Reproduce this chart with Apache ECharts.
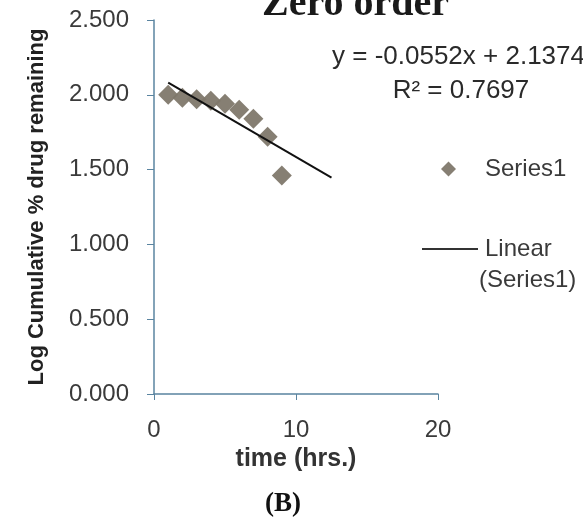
<!DOCTYPE html>
<html>
<head>
<meta charset="utf-8">
<script src="https://cdn.jsdelivr.net/npm/echarts@6/dist/echarts.min.js"></script>
<style>
  html, body { margin: 0; padding: 0; background: #fff; }
  #chart { width: 583px; height: 525px; }
</style>
</head>
<body>
<div id="chart"></div>
<script>
// time (hrs.) and log cumulative % drug remaining
const times = [1, 2, 3, 4, 5, 6, 7, 8, 9]
const logRemaining = [2.00, 1.98, 1.97, 1.96, 1.94, 1.90, 1.84, 1.72, 1.46]
// ends of the Excel linear trendline as drawn
const trendX = [1, 12.5]
const trendY = [2.082, 1.447]
const xTicks = [0, 10, 20]

const sans = 'Liberation Sans'
const axisColor = '#5a84a0'
const textColor = '#3a3a3a'

const chart = echarts.init(document.getElementById('chart'))

const option = {
  animation: false,
  title: {
    text: 'Zero order',
    left: 262,
    top: -15,
    padding: 0,
    textStyle: {
      fontFamily: 'Liberation Serif',
      fontWeight: 'bold',
      fontSize: 40,
      color: '#1a1a1a'
    }
  },
  grid: { left: 154, right: 145, top: 20, bottom: 131 },
  legend: [
    {
      data: ['Series1'],
      left: 436,
      top: 152,
      itemWidth: 15,
      itemHeight: 15,
      textStyle: { fontFamily: sans, fontSize: 24, color: textColor, padding: [0, 0, 0, 24] }
    },
    {
      data: [{ name: 'Linear (Series1)', icon: 'rect' }],
      left: 417,
      top: 232,
      itemWidth: 56,
      itemHeight: 2,
      itemStyle: { color: '#333' },
      formatter: function () { return 'Linear' },
      textStyle: { fontFamily: sans, fontSize: 24, color: textColor, padding: [0, 0, 0, 2] }
    }
  ],
  xAxis: {
    type: 'value',
    min: 0,
    max: 20,
    interval: 10,
    name: 'time (hrs.)',
    nameLocation: 'middle',
    nameGap: 51,
    nameTextStyle: { fontFamily: sans, fontWeight: 'bold', fontSize: 25, color: '#333' },
    axisLine: { show: true, lineStyle: { color: axisColor, width: 1.5 } },
    axisTick: { show: true, length: 6, lineStyle: { color: axisColor } },
    axisLabel: {
      margin: 24,
      fontFamily: sans,
      fontSize: 24,
      color: textColor,
      customValues: xTicks
    },
    splitLine: { show: false }
  },
  yAxis: {
    type: 'value',
    min: 0,
    max: 2.5,
    interval: 0.5,
    name: 'Log Cumulative % drug remaining',
    nameLocation: 'middle',
    nameGap: 106,
    nameTextStyle: { fontFamily: sans, fontWeight: 'bold', fontSize: 22, color: '#222' },
    axisLine: { show: true, lineStyle: { color: axisColor, width: 1.5 } },
    axisTick: { show: true, length: 7, lineStyle: { color: axisColor } },
    axisLabel: {
      margin: 25,
      fontFamily: sans,
      fontSize: 24,
      color: textColor,
      formatter: function (v) { return v.toFixed(3) }
    },
    splitLine: { show: false }
  },
  series: [
    {
      name: 'Series1',
      type: 'scatter',
      symbol: 'diamond',
      symbolSize: 20,
      itemStyle: { color: '#80786c', opacity: 0.95 },
      data: times.map((t, i) => [t, logRemaining[i]])
    },
    {
      name: 'Linear (Series1)',
      type: 'line',
      symbol: 'none',
      lineStyle: { color: '#111', width: 2 },
      itemStyle: { color: '#111' },
      data: trendX.map((t, i) => [t, trendY[i]])
    }
  ],
  graphic: [
    {
      type: 'text',
      left: 332,
      top: 44,
      style: { text: 'y = -0.0552x + 2.1374', font: '26px "Liberation Sans"', fill: '#2a2a2a' }
    },
    {
      type: 'text',
      x: 461,
      y: 91,
      style: {
        text: 'R² = 0.7697',
        font: '26px "Liberation Sans"',
        fill: '#2a2a2a',
        align: 'center',
        verticalAlign: 'middle'
      }
    },
    {
      // second line of the trendline legend entry
      type: 'text',
      x: 479,
      y: 280,
      style: {
        text: '(Series1)',
        font: '24px "Liberation Sans"',
        fill: textColor,
        verticalAlign: 'middle'
      }
    },
    {
      type: 'text',
      x: 283,
      y: 504,
      style: {
        text: '(B)',
        font: 'bold 27px "Liberation Serif"',
        fill: '#111',
        align: 'center',
        verticalAlign: 'middle'
      }
    }
  ]
}

chart.setOption(option)
</script>
</body>
</html>
